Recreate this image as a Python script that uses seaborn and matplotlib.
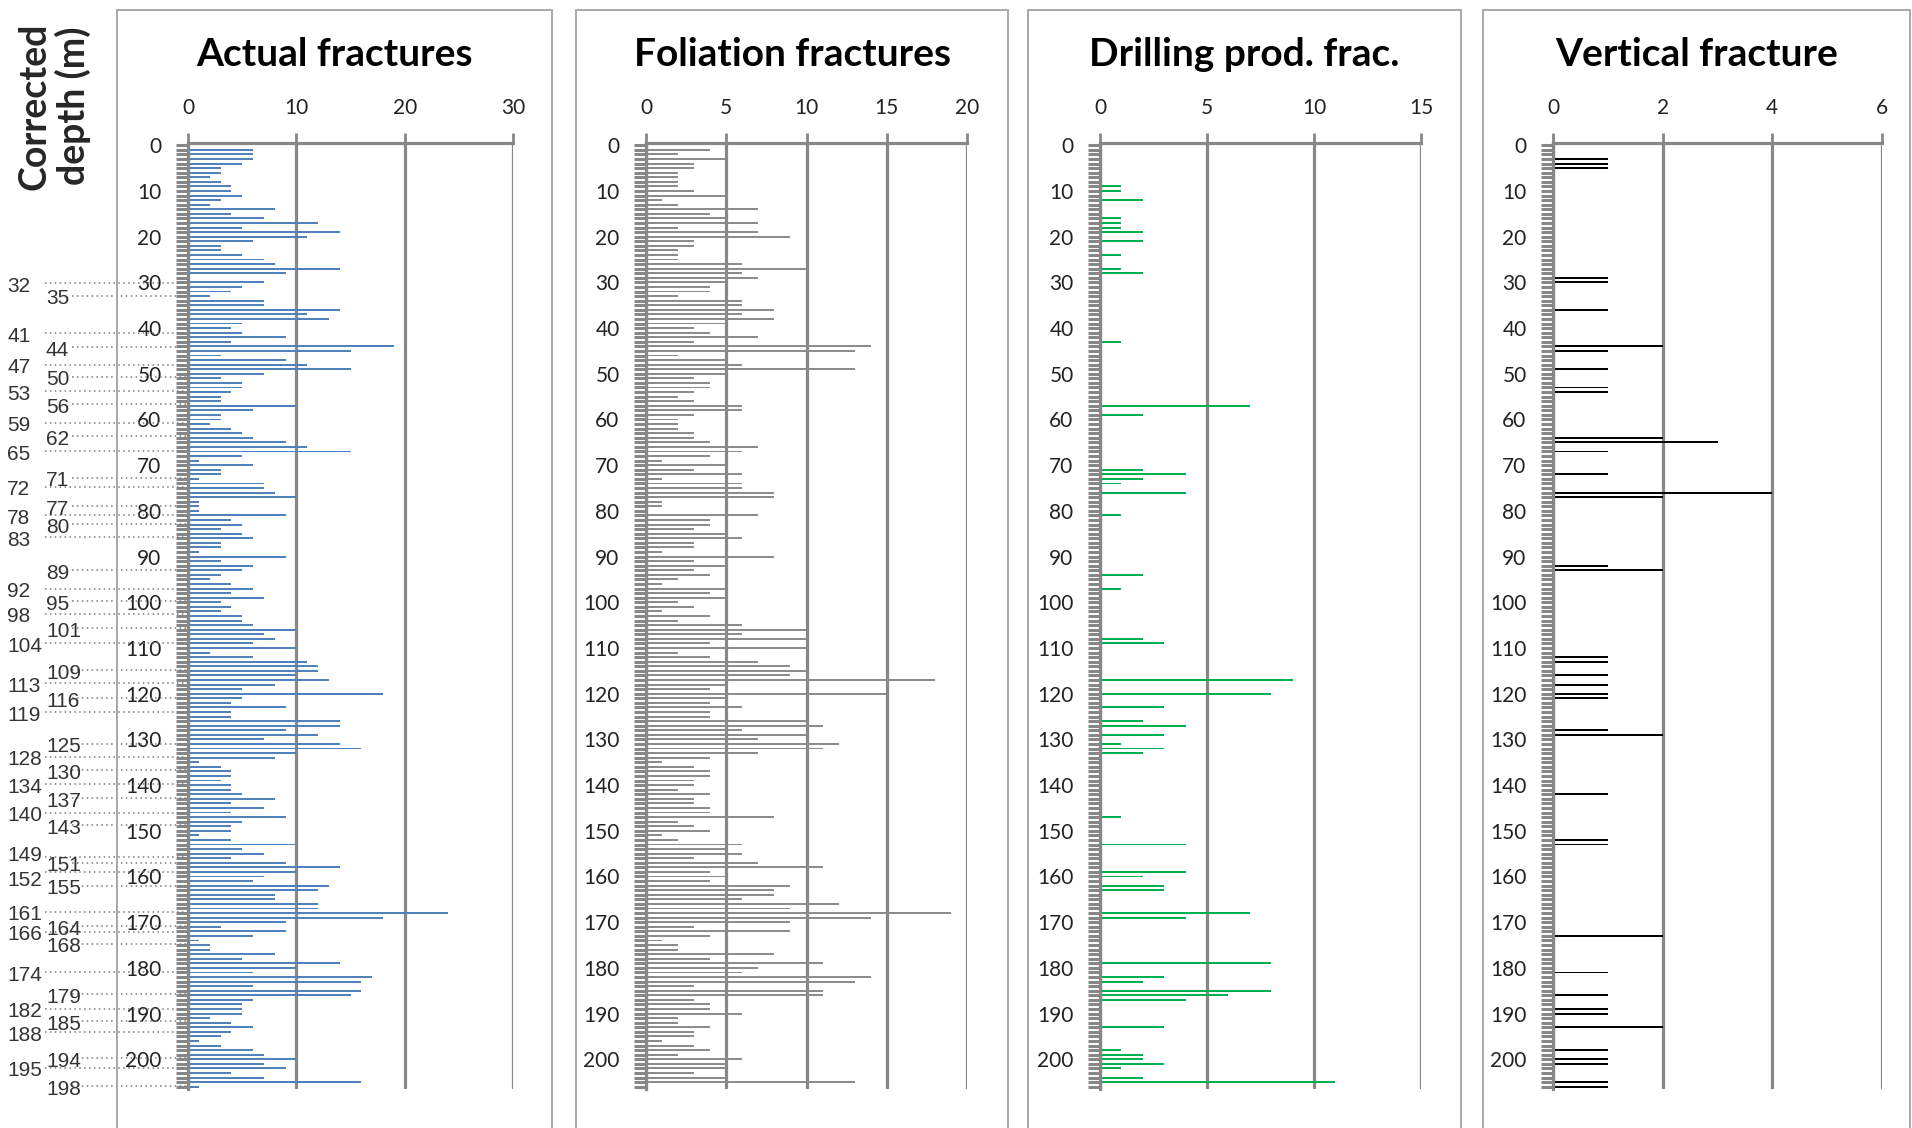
import numpy as np
import pandas as pd
import matplotlib
matplotlib.use("Agg")
import matplotlib.pyplot as plt
import matplotlib.transforms as mtrans
from matplotlib.patches import Rectangle
from matplotlib.ticker import MultipleLocator
import seaborn as sns

# depth categories (m), one bar slot per metre
depth = list(range(207))

actual = [0, 6, 6, 6, 5, 3, 3, 2, 3, 4,
          4, 5, 3, 2, 8, 4, 7, 12, 5, 14,
          11, 6, 3, 3, 5, 7, 8, 14, 9, 0,
          7, 5, 4, 2, 7, 7, 14, 11, 13, 5,
          4, 5, 9, 4, 19, 15, 3, 9, 11, 15,
          7, 3, 5, 5, 4, 3, 3, 10, 6, 3,
          3, 2, 4, 5, 6, 9, 11, 15, 5, 1,
          6, 3, 3, 1, 7, 7, 8, 10, 1, 1,
          1, 9, 4, 5, 3, 5, 6, 3, 3, 1,
          9, 3, 6, 5, 3, 2, 4, 6, 4, 7,
          3, 4, 3, 5, 5, 6, 10, 7, 8, 6,
          10, 2, 6, 11, 12, 12, 10, 13, 8, 5,
          18, 5, 4, 9, 4, 4, 14, 14, 9, 12,
          7, 14, 16, 10, 8, 1, 3, 4, 4, 3,
          4, 4, 5, 8, 4, 7, 4, 9, 5, 4,
          4, 1, 4, 10, 5, 7, 4, 9, 14, 10,
          7, 6, 13, 12, 8, 8, 12, 12, 24, 18,
          9, 3, 9, 6, 1, 2, 2, 8, 5, 14,
          10, 6, 17, 16, 6, 16, 15, 6, 5, 5,
          5, 2, 4, 6, 4, 3, 1, 3, 6, 7,
          10, 7, 9, 4, 7, 16, 1]

foliation = [0, 4, 2, 5, 3, 3, 2, 2, 2, 2,
             3, 5, 1, 2, 7, 4, 5, 7, 2, 7,
             9, 3, 3, 2, 2, 2, 6, 10, 6, 7,
             5, 4, 4, 2, 6, 6, 8, 6, 8, 5,
             3, 4, 7, 3, 14, 13, 2, 5, 6, 13,
             5, 3, 4, 4, 3, 2, 3, 6, 6, 3,
             2, 2, 2, 3, 3, 4, 7, 6, 4, 1,
             5, 3, 6, 1, 6, 6, 8, 8, 1, 1,
             0, 7, 4, 4, 3, 5, 6, 3, 3, 1,
             8, 3, 5, 3, 4, 2, 1, 5, 4, 5,
             2, 3, 1, 4, 2, 6, 10, 6, 10, 4,
             10, 2, 4, 7, 9, 10, 9, 18, 5, 4,
             15, 5, 4, 6, 4, 4, 10, 11, 6, 10,
             7, 12, 11, 7, 4, 1, 3, 4, 4, 3,
             3, 2, 4, 3, 3, 4, 4, 8, 2, 3,
             4, 1, 2, 6, 5, 6, 3, 7, 11, 4,
             5, 4, 9, 8, 8, 6, 12, 9, 19, 14,
             9, 3, 9, 4, 1, 2, 2, 8, 4, 11,
             7, 6, 14, 13, 3, 11, 11, 3, 4, 4,
             6, 2, 2, 4, 3, 3, 1, 3, 4, 2,
             6, 5, 5, 3, 5, 13, 0]

drill_depths = [9, 10, 12, 16, 17, 18, 19, 21, 24, 27, 28, 43, 57, 59, 71, 72, 73, 74, 76, 81,
                94, 97, 108, 109, 117, 120, 123, 126, 127, 129, 131, 132, 133, 147, 153, 159,
                160, 162, 163, 168, 169, 179, 182, 183, 185, 186, 187, 193, 198, 199, 200,
                201, 202, 204, 205]
drill_values = [1, 1, 2, 1, 1, 1, 2, 2, 1, 1, 2, 1, 7, 2, 2, 4, 2, 1, 4, 1,
                2, 1, 2, 3, 9, 8, 3, 2, 4, 3, 1, 3, 2, 1, 4, 4,
                2, 3, 3, 7, 4, 8, 3, 2, 8, 6, 4, 3, 1, 2, 2,
                3, 1, 2, 11]

vert_depths = [3, 4, 5, 29, 30, 36, 44, 45, 49, 53, 54, 64, 65, 67, 72, 76, 77, 92, 93,
               112, 113, 116, 118, 120, 121, 128, 129, 142, 152, 153, 173, 181, 186, 189,
               190, 193, 198, 200, 201, 205, 206]
vert_values = [1, 1, 1, 1, 1, 1, 2, 1, 1, 1, 1, 2, 3, 1, 1, 4, 2, 1, 2,
               1, 1, 1, 1, 1, 1, 1, 2, 1, 1, 1, 2, 1, 1, 1,
               1, 2, 1, 1, 1, 1, 1]

# core box numbers shown at the left margin
box_left = [32, 41, 47, 53, 59, 65, 72, 78, 83, 92, 98, 104, 113, 119, 128, 134, 140,
            149, 152, 161, 166, 174, 182, 188, 195]
box_left_depth = [30.1, 41.1, 48.0, 53.8, 60.7, 66.9, 74.7, 80.9, 85.8, 97.0, 102.5, 109.0,
                  117.7, 124.0, 133.8, 139.8, 146.0, 155.8, 159.1, 167.7, 172.1, 181.0,
                  188.9, 194.0, 201.8]
box_right = [35, 44, 50, 56, 62, 71, 77, 80, 89, 95, 101, 109, 116, 125, 130, 137, 143,
             151, 155, 164, 168, 179, 185, 194, 198]
box_right_depth = [32.9, 44.1, 50.6, 56.7, 63.7, 72.7, 78.9, 82.9, 93.0, 99.8, 105.7, 114.8,
                   120.9, 130.9, 136.7, 142.9, 148.8, 157.0, 162.0, 170.8, 174.7, 185.8,
                   191.7, 199.8, 205.9]

titles = ["Actual fractures", "Foliation fractures", "Drilling prod. frac.", "Vertical fracture"]
x_max = [30, 20, 15, 6]
x_step = [10, 5, 5, 2]


def full_series(depths, values):
    arr = np.zeros(len(depth))
    arr[np.array(depths)] = values
    return arr


series = [np.array(actual), np.array(foliation),
          full_series(drill_depths, drill_values), full_series(vert_depths, vert_values)]
colors = ["#4F81BD", "#8C8C8C", "#00B050", "#000000"]

W, H = 1912, 1128
GRAY = "#878787"
ARIAL = ["Liberation Sans", "DejaVu Sans"]

sns.set_style("white")
plt.rcParams["font.family"] = ["Lato", "DejaVu Sans"]

fig = plt.figure(figsize=(W / 100, H / 100), dpi=100)

# (axis x0, axis x1, frame x0, frame x1) in pixels
layout = [(188, 513, 117, 552),
          (646, 967, 576, 1008),
          (1100, 1421, 1028, 1461),
          (1553, 1882, 1483, 1910)]
ax_top, ax_bot = 143, 1089

axes = []
for i, (x0, x1, f0, f1) in enumerate(layout):
    fig.add_artist(Rectangle((f0 / W, -0.02), (f1 - f0) / W, 1 - 10 / H + 0.02,
                             transform=fig.transFigure, fill=False,
                             ec="#A8A8A8", lw=1.4))
    ax = fig.add_axes([x0 / W, 1 - ax_bot / H, (x1 - x0) / W, (ax_bot - ax_top) / H])
    ax.set_facecolor("none")
    df = pd.DataFrame({"depth": depth, "count": series[i]})
    sns.barplot(data=df, x="count", y="depth", orient="y", native_scale=True,
                color=colors[i], saturation=1, width=0.42, errorbar=None,
                linewidth=0, ax=ax)
    ax.set_xlim(0, x_max[i])
    ax.set_ylim(206.5, -0.5)
    ax.set_xlabel("")
    ax.set_ylabel("")

    ax.xaxis.tick_top()
    ax.set_xticks(np.arange(0, x_max[i] + 1, x_step[i]))
    ax.tick_params(axis="x", which="major", top=True, bottom=False, direction="out",
                   length=7, width=2, color=GRAY, pad=11, labelsize=15,
                   labelcolor="#222222")
    ax.yaxis.set_major_locator(MultipleLocator(10))
    ax.yaxis.set_minor_locator(MultipleLocator(1))
    ax.tick_params(axis="y", which="both", left=True, right=False, direction="out",
                   length=9, width=2.2, color=GRAY)
    ax.tick_params(axis="y", which="major", pad=10, labelsize=15, labelcolor="#222222")
    ax.grid(axis="x", color=GRAY, lw=2.3)
    ax.set_axisbelow(True)
    for side in ["right", "bottom"]:
        ax.spines[side].set_visible(False)
    for side in ["top", "left"]:
        ax.spines[side].set_color(GRAY)
        ax.spines[side].set_linewidth(2.3)

    fig.text((f0 + f1) / 2 / W, 1 - 55 / H, titles[i], ha="center", va="center",
             fontsize=28, fontweight="bold", color="#000000")
    axes.append(ax)

# box numbers with dotted leaders to the depth axis
ax1 = axes[0]
blend = mtrans.blended_transform_factory(fig.transFigure, ax1.transData)
for num, d in zip(box_left, box_left_depth):
    ax1.plot([45 / W, 186 / W], [d, d], transform=blend, clip_on=False,
             ls=(0, (1, 2.2)), color="#7A7A7A", lw=1.1)
    # 149 and 152 sit very close together, nudge them apart a little
    shift = {149: -0.4, 152: 1.8}.get(num, 0.7)
    fig.text(7 / W, d + shift, str(num), transform=blend, ha="left", va="center",
             fontsize=15, color="#333333", family=ARIAL)
for num, d in zip(box_right, box_right_depth):
    ax1.plot([72 / W, 186 / W], [d, d], transform=blend, clip_on=False,
             ls=(0, (1, 2.2)), color="#7A7A7A", lw=1.1)
    fig.text(46 / W, d + 0.7, str(num), transform=blend, ha="left", va="center",
             fontsize=15, color="#333333", family=ARIAL)

fig.text(54 / W, 1 - 106 / H, "Corrected\ndepth (m)", rotation=90, ha="center",
         va="center", fontsize=27, fontweight="bold", multialignment="center",
         linespacing=1.1)

fig.savefig("out.png", dpi=100)
